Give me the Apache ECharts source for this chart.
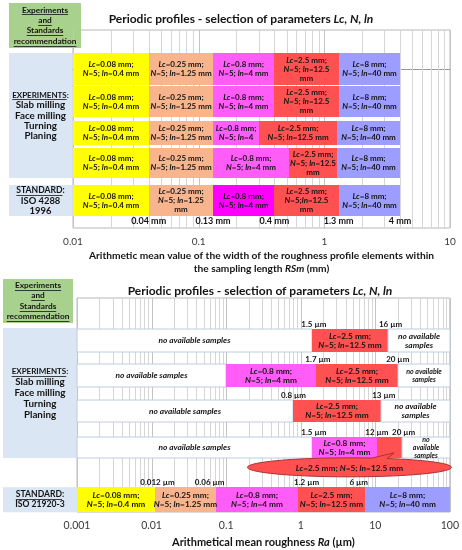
<!DOCTYPE html>
<html><head><meta charset="utf-8">
<script src="https://cdn.jsdelivr.net/npm/echarts@6/dist/echarts.min.js"></script>
<style>html,body{margin:0;padding:0;background:#fff}#c{width:462px;height:550px}</style>
</head><body><div id="c"></div>
<script>
// ================= DATA =================
// Top chart: RSm (mm), log axis
const topAxisTicks = [0.01, 0.1, 1, 10];
const topRowNames = ['Experiments 1', 'Experiments 2', 'Experiments 3', 'Experiments 4', 'ISO 4288 1996'];
// each segment: [from, to, Lc class]
const topRow1 = [[0.01, 0.04, '0.08'], [0.04, 0.13, '0.25'], [0.13, 0.4, '0.8'], [0.4, 1.3, '2.5'], [1.3, 4, '8']];
const topRow2 = [[0.01, 0.04, '0.08'], [0.04, 0.13, '0.25'], [0.13, 0.4, '0.8'], [0.4, 1.3, '2.5'], [1.3, 4, '8']];
const topRow3 = [[0.01, 0.04, '0.08'], [0.04, 0.13, '0.25'], [0.13, 0.3, '0.8'], [0.3, 1.25, '2.5'], [1.25, 4, '8']];
const topRow4 = [[0.01, 0.04, '0.08'], [0.04, 0.13, '0.25'], [0.13, 0.52, '0.8'], [0.52, 1.25, '2.5'], [1.25, 4, '8']];
const topStd  = [[0.01, 0.04, '0.08'], [0.04, 0.13, '0.25'], [0.13, 0.4, '0.8'], [0.4, 1.3, '2.5'], [1.3, 4, '8']];
const topRow1Text = ['Lc=0.08 mm;\nN=5; ln=0.4 mm', 'Lc=0.25 mm;\nN=5; ln=1.25 mm', 'Lc=0.8 mm;\nN=5; ln=4 mm', 'Lc=2.5 mm;\nN=5; ln=12.5\nmm', 'Lc=8 mm;\nN=5; ln=40 mm'];
const topRow2Text = ['Lc=0.08 mm;\nN=5; ln=0.4 mm', 'Lc=0.25 mm;\nN=5; ln=1.25 mm', 'Lc=0.8 mm;\nN=5; ln=4 mm', 'Lc=2.5 mm;\nN=5; ln=12.5\nmm', 'Lc=8 mm;\nN=5; ln=40 mm'];
const topRow3Text = ['Lc=0.08 mm;\nN=5; ln=0.4 mm', 'Lc=0.25 mm;\nN=5; ln=1.25 mm', 'Lc=0.8 mm;\nN=5; ln=4', 'Lc=2.5 mm;\nN=5; ln=12.5 mm', 'Lc=8 mm;\nN=5; ln=40 mm'];
const topRow4Text = ['Lc=0.08 mm;\nN=5; ln=0.4 mm', 'Lc=0.25 mm;\nN=5; ln=1.25 mm', 'Lc=0.8 mm;\nN=5; ln=4 mm', 'Lc=2.5 mm;\nN=5; ln=12.5\nmm', 'Lc=8 mm;\nN=5; ln=40 mm'];
const topStdText  = ['Lc=0.08 mm;\nN=5; ln=0.4 mm', 'Lc=0.25 mm;\nN=5; ln=1.25\nmm', 'Lc=0.8 mm;\nN=5; ln=4 mm', 'Lc=2.5 mm;\nN=5;ln=12.5\nmm', 'Lc=8 mm;\nN=5; ln=40 mm'];
const topStdThresholds = [0.04, 0.13, 0.4, 1.3, 4];
const topStdThresholdText = ['0.04 mm', '0.13 mm', '0.4 mm', '1.3 mm', '4 mm'];

// Bottom chart: Ra (µm), log axis
const botAxisTicks = [0.001, 0.01, 0.1, 1, 10, 100];
const botRowNames = ['Experiments 1', 'Experiments 2', 'Experiments 3', 'Experiments 4', 'ISO 21920-3'];
const botRow1 = [[0.001, 1.4, null], [1.4, 15, '2.5'], [15, 100, null]];
const botRow2 = [[0.001, 0.1, null], [0.1, 1.6, '0.8'], [1.6, 20, '2.5'], [20, 100, null]];
const botRow3 = [[0.001, 0.8, null], [0.8, 12, '2.5'], [12, 100, null]];
const botRow4 = [[0.001, 1.4, null], [1.4, 10.6, '0.8'], [10.6, 23, '2.5'], [23, 100, null]];
const botStd  = [[0.001, 0.011, '0.08'], [0.011, 0.074, '0.25'], [0.074, 0.93, '0.8'], [0.93, 7.3, '2.5'], [7.3, 100, '8']];
const botRow1Text = ['no available samples', 'Lc=2.5 mm;\nN=5; ln=12.5 mm', 'no available\nsamples'];
const botRow2Text = ['no available samples', 'Lc=0.8 mm;\nN=5; ln=4 mm', 'Lc=2.5 mm;\nN=5; ln=12.5 mm', 'no available\nsamples'];
const botRow3Text = ['no available samples', 'Lc=2.5 mm;\nN=5; ln=12.5 mm', 'no available\nsamples'];
const botRow4Text = ['no available samples', 'Lc=0.8 mm;\nN=5; ln=4 mm', '', 'no\navailable\nsamples'];
const botStdText  = ['Lc=0.08 mm;\nN=5; ln=0.4 mm', 'Lc=0.25 mm;\nN=5; ln=1.25 mm', 'Lc=0.8 mm;\nN=5; ln=4 mm', 'Lc=2.5 mm;\nN=5; ln=12.5 mm', 'Lc=8 mm;\nN=5; ln=40 mm'];
// threshold labels shown above each row: [position on Ra axis, text]
const botRow1Thresholds = [[1.5, '1.5 µm'], [16, '16 µm']];
const botRow2Thresholds = [[1.7, '1.7 µm'], [20, '20 µm']];
const botRow3Thresholds = [[0.8, '0.8 µm'], [13, '13 µm']];
const botRow4Thresholds = [[1.5, '1.5 µm'], [10.5, '12 µm'], [24, '20 µm']];
const botStdThresholds  = [[0.012, '0.012 µm'], [0.06, '0.06 µm'], [1.2, '1.2 µm'], [6, '6 µm']];
// callout for the narrow Lc=2.5 cell of experiment row 4
const calloutText = 'Lc=2.5 mm; N=5; ln=12.5 mm';
const calloutTipRa = 17.8;
const calloutCenterRa = 4.5;

// ================= STYLE / LAYOUT =================
const FONT = 'Lato';
const INK = '#141414';
const palette = {'0.08': '#ffff00', '0.25': '#f8b48c', '0.8': '#ff5cf8', '2.5': '#ff5151', '8': '#9d9dff'};
const topStdColors = {'0.8': '#ff00ff'};
const topLayout = {pos: [0, 1.04, 2.03, 2.98, 4.17], thick: [1.0, 0.98, 0.76, 0.96, 0.98], yMin: -1.23, yMax: 5.04};
const botLayout = {pos: [0, 0.97, 1.96, 2.97, 4.42], thick: [0.64, 0.64, 0.61, 0.58, 0.69], yMin: -1.18, yMax: 4.76};

function toRich(s, allItalic) {
  return s.split('\n').map(line => {
    if (allItalic) return '{i|' + line + '}';
    return line.split(/(Lc|N|ln)(?==)/).map((p, k) => p === '' ? '' : (k % 2 ? '{i|' + p + '}' : '{b|' + p + '}')).join('');
  }).join('\n');
}
function richStyles(fs, lh, zr) {
  const c = zr ? {fill: INK} : {color: INK};
  return {
    b: Object.assign({fontFamily: FONT, fontWeight: 'bold', fontSize: fs, lineHeight: lh}, c),
    i: Object.assign({fontFamily: FONT, fontWeight: 'bold', fontStyle: 'italic', fontSize: fs, lineHeight: lh}, c)
  };
}

// build cells
function buildCells(rows, texts, layout, stdColors) {
  const data = [], meta = [];
  rows.forEach((row, r) => {
    row.forEach((seg, s) => {
      data.push([seg[0], seg[1], layout.pos[r], layout.thick[r]]);
      let color = seg[2] ? palette[seg[2]] : '#ffffff';
      if (r === rows.length - 1 && stdColors && seg[2] && stdColors[seg[2]]) color = stdColors[seg[2]];
      meta.push({lc: seg[2], color: color, text: texts[r][s]});
    });
  });
  return {data, meta};
}
const topCells = buildCells([topRow1, topRow2, topRow3, topRow4, topStd],
  [topRow1Text, topRow2Text, topRow3Text, topRow4Text, topStdText], topLayout, topStdColors);
const botCells = buildCells([botRow1, botRow2, botRow3, botRow4, botStd],
  [botRow1Text, botRow2Text, botRow3Text, botRow4Text, botStdText], botLayout, null);

function cellRender(meta, fsMain) {
  return function (params, api) {
    const m = meta[params.dataIndex];
    const lo = api.value(0), hi = api.value(1), y = api.value(2), t = api.value(3);
    const a = api.coord([lo, y - t / 2]), b = api.coord([hi, y + t / 2]);
    const x0 = Math.round(a[0]), x1 = Math.round(b[0]);
    const y0 = Math.round(Math.min(a[1], b[1])), y1 = Math.round(Math.max(a[1], b[1]));
    const w = x1 - x0;
    const el = {type: 'rect', shape: {x: x0, y: y0, width: w, height: y1 - y0},
      style: m.lc ? {fill: m.color} : {fill: '#ffffff', stroke: '#bccde0', lineWidth: 1}};
    if (m.text) {
      const nas = !m.lc;
      let fs = fsMain;
      if (nas && w < 56) fs = 7;
      else if (nas) fs = 8.3;
      el.textContent = {style: {text: toRich(m.text, nas), rich: richStyles(fs, fs + 1, true), align: 'center', verticalAlign: 'middle'}};
      el.textConfig = {position: 'inside'};
    }
    return el;
  };
}

function gridRender(axMin, axMax, yMin, yMax) {
  return function (params, api) {
    const children = [];
    const e0 = Math.round(Math.log10(axMin)), e1 = Math.round(Math.log10(axMax));
    for (let e = e0; e <= e1; e++) {
      for (let m = 1; m <= 9; m++) {
        if (e === e1 && m > 1) break;
        const v = m * Math.pow(10, e);
        const p0 = api.coord([v, yMin]), p1 = api.coord([v, yMax]);
        const x = Math.round(p0[0]) + 0.5;
        children.push({type: 'line', shape: {x1: x, y1: p0[1], x2: x, y2: p1[1]},
          style: {stroke: m === 1 ? '#c4c4c4' : '#d6d6d6', lineWidth: 1}});
      }
    }
    return {type: 'group', children};
  };
}

// thresholds
const topThrData = topStdThresholds.map(v => [v, topLayout.pos[4], topLayout.thick[4]]);
const botThrAll = [botRow1Thresholds, botRow2Thresholds, botRow3Thresholds, botRow4Thresholds, botStdThresholds];
const botThrData = [], botThrText = [];
botThrAll.forEach((arr, r) => arr.forEach(t => { botThrData.push([t[0], botLayout.pos[r], botLayout.thick[r]]); botThrText.push(t[1]); }));

function thrRender(texts, below, fs) {
  return function (params, api) {
    const v = api.value(0), y = api.value(1), t = api.value(2);
    const p = api.coord([v, below ? y + t / 2 : y - t / 2]);
    return {type: 'text', x: p[0], y: below ? p[1] + 1 : p[1] - 0.5,
      style: {text: texts[params.dataIndex], fontFamily: FONT, fontWeight: 'bold', fontSize: fs, fill: INK,
        align: 'center', verticalAlign: below ? 'top' : 'bottom'}};
  };
}

function calloutRender(params, api) {
  const tip = api.coord([api.value(0), api.value(1)]);
  const c = api.coord([api.value(2), api.value(3)]);
  const rx = 102, ry = 9.5;
  const bx1 = tip[0] - 22, bx2 = tip[0] - 7;
  const th1 = 2 * Math.PI - Math.acos(Math.max(-1, Math.min(1, (bx1 - c[0]) / rx)));
  const th2 = 2 * Math.PI - Math.acos(Math.max(-1, Math.min(1, (bx2 - c[0]) / rx)));
  const pts = [];
  let tipDone = false;
  const N = 90;
  for (let k = 0; k <= N; k++) {
    const th = 2 * Math.PI * k / N;
    if (th > th1 && !tipDone) {
      pts.push([c[0] + rx * Math.cos(th1), c[1] + ry * Math.sin(th1)]);
      pts.push([tip[0], tip[1]]);
      pts.push([c[0] + rx * Math.cos(th2), c[1] + ry * Math.sin(th2)]);
      tipDone = true;
    }
    if (th > th1 && th < th2) continue;
    pts.push([c[0] + rx * Math.cos(th), c[1] + ry * Math.sin(th)]);
  }
  return {type: 'group', children: [
    {type: 'polygon', shape: {points: pts}, style: {fill: '#ff4f4f', stroke: '#a83232', lineWidth: 1}},
    {type: 'text', x: c[0], y: c[1] + 0.5, style: {text: toRich(calloutText, false), rich: richStyles(8.3, 10, true),
      align: 'center', verticalAlign: 'middle'}}
  ]};
}

function tickFmt(ticks) {
  return function (v) {
    const t = ticks.find(t => Math.abs(Math.log10(t) - Math.log10(v)) < 1e-6);
    return t === undefined ? '' : String(t);
  };
}

const titleRich = {
  b: {fontFamily: FONT, fontWeight: 'bold', fontSize: 12, color: INK},
  bi: {fontFamily: FONT, fontWeight: 'bold', fontStyle: 'italic', fontSize: 12, color: INK}
};
const nameRichTop = {
  b: {fontFamily: FONT, fontWeight: 'bold', fontSize: 10.2, color: INK, lineHeight: 13},
  bi: {fontFamily: FONT, fontWeight: 'bold', fontStyle: 'italic', fontSize: 10.2, color: INK, lineHeight: 13}
};
const nameRichBot = {
  b: {fontFamily: FONT, fontWeight: 'bold', fontSize: 11, color: INK, lineHeight: 14},
  bi: {fontFamily: FONT, fontWeight: 'bold', fontStyle: 'italic', fontSize: 11, color: INK, lineHeight: 14}
};

const chart = echarts.init(document.getElementById('c'), null, {renderer: 'canvas', width: 462, height: 550});
chart.setOption({
  backgroundColor: '#ffffff',
  animation: false,
  title: [
    {text: '{b|Periodic profiles - selection of parameters }{bi|Lc, N, ln}', left: 236, top: 8, textAlign: 'center', textStyle: {rich: titleRich}},
    {text: '{b|Periodic profiles - selection of parameters }{bi|Lc, N, ln}', left: 255, top: 280, textAlign: 'center', textStyle: {rich: titleRich}}
  ],
  grid: [
    {left: 73, right: 12, top: 30, height: 198, show: true, borderColor: '#b8b8b8', borderWidth: 1, backgroundColor: '#fff'},
    {left: 77, right: 11, top: 298, height: 214, show: true, borderColor: '#b8b8b8', borderWidth: 1, backgroundColor: '#fff'}
  ],
  xAxis: [
    {type: 'log', logBase: 10, gridIndex: 0, min: topAxisTicks[0], max: topAxisTicks[topAxisTicks.length - 1],
      axisLine: {show: true, lineStyle: {color: '#9a9a9a'}}, axisTick: {show: false}, splitLine: {show: false},
      axisLabel: {fontFamily: FONT, fontSize: 10, color: '#3a3a3a', margin: 9, formatter: tickFmt(topAxisTicks)},
      name: '{b|Arithmetic mean value of the width of the roughness profile elements within}\n{b|the sampling length }{bi|RSm}{b| (mm)}',
      nameLocation: 'middle', nameGap: 21, nameTextStyle: {rich: nameRichTop, align: 'center'}},
    {type: 'log', logBase: 10, gridIndex: 1, min: botAxisTicks[0], max: botAxisTicks[botAxisTicks.length - 1],
      axisLine: {show: true, lineStyle: {color: '#9a9a9a'}}, axisTick: {show: false}, splitLine: {show: false},
      axisLabel: {fontFamily: FONT, fontSize: 10.5, color: '#3a3a3a', margin: 8, formatter: tickFmt(botAxisTicks)},
      name: '{b|Arithmetical mean roughness }{bi|Ra}{b| (µm)}',
      nameLocation: 'middle', nameGap: 23, nameTextStyle: {rich: nameRichBot}}
  ],
  yAxis: [
    {type: 'value', gridIndex: 0, inverse: true, min: topLayout.yMin, max: topLayout.yMax, show: false},
    {type: 'value', gridIndex: 1, inverse: true, min: botLayout.yMin, max: botLayout.yMax, show: false}
  ],
  series: [
    {type: 'custom', name: 'grid-top', xAxisIndex: 0, yAxisIndex: 0, z: 1, silent: true, data: [[1, 0]],
      renderItem: gridRender(topAxisTicks[0], topAxisTicks[topAxisTicks.length - 1], topLayout.yMin, topLayout.yMax)},
    {type: 'custom', name: 'grid-bottom', xAxisIndex: 1, yAxisIndex: 1, z: 1, silent: true, data: [[1, 0]],
      renderItem: gridRender(botAxisTicks[0], botAxisTicks[botAxisTicks.length - 1], botLayout.yMin, botLayout.yMax)},
    {type: 'custom', name: 'RSm ranges', xAxisIndex: 0, yAxisIndex: 0, z: 2, data: topCells.data,
      encode: {x: [0, 1], y: 2}, renderItem: cellRender(topCells.meta, 8)},
    {type: 'custom', name: 'Ra ranges', xAxisIndex: 1, yAxisIndex: 1, z: 2, data: botCells.data,
      encode: {x: [0, 1], y: 2}, renderItem: cellRender(botCells.meta, 8.3)},
    {type: 'custom', name: 'RSm thresholds', xAxisIndex: 0, yAxisIndex: 0, z: 3, data: topThrData,
      encode: {x: 0, y: 1}, renderItem: thrRender(topStdThresholdText, true, 9)},
    {type: 'custom', name: 'Ra thresholds', xAxisIndex: 1, yAxisIndex: 1, z: 3, data: botThrData,
      encode: {x: 0, y: 1}, renderItem: thrRender(botThrText, false, 8)},
    {type: 'custom', name: 'callout', xAxisIndex: 1, yAxisIndex: 1, z: 4,
      data: [[calloutTipRa, botLayout.pos[3] + 0.15, calloutCenterRa, botLayout.pos[3] + 0.55]],
      renderItem: calloutRender}
  ]
});

// ---------- left-hand label boxes ----------
const measureCtx = document.createElement('canvas').getContext('2d');
function textW(t, fs) { measureCtx.font = 'bold ' + fs + 'px ' + FONT; return measureCtx.measureText(t).width; }
function leftBox(x0, x1, y0, y1, fill, lines) {
  const cx = (x0 + x1) / 2, cy = (y0 + y1) / 2;
  const els = [{type: 'rect', shape: {x: x0, y: y0, width: x1 - x0, height: y1 - y0}, style: {fill: fill}, z: 0}];
  lines.forEach(l => {
    const y = cy + l.dy;
    els.push({type: 'text', x: cx, y: y, style: {text: l.t, fontFamily: FONT, fontWeight: 'bold', fontSize: l.fs,
      fill: INK, align: 'center', verticalAlign: 'middle'}, z: 1});
    if (l.u) {
      const W = textW(l.t, l.fs);
      const wu = l.u === 'all' ? W : textW(l.u, l.fs);
      const uy = Math.round(y + l.fs * 0.55) + 0.5;
      els.push({type: 'line', shape: {x1: cx - W / 2, y1: uy, x2: cx - W / 2 + wu, y2: uy}, style: {stroke: INK, lineWidth: 0.8}, z: 1});
    }
  });
  return els;
}
function py(g, y) { return chart.convertToPixel({gridIndex: g}, [1, y])[1]; }
const tTop0 = py(0, topLayout.pos[0] - topLayout.thick[0] / 2), tTop3 = py(0, topLayout.pos[3] + topLayout.thick[3] / 2);
const tStd0 = py(0, topLayout.pos[4] - topLayout.thick[4] / 2), tStd1 = py(0, topLayout.pos[4] + topLayout.thick[4] / 2);
const bTop0 = py(1, botLayout.pos[0] - botLayout.thick[0] / 2) - 1, bTop3 = py(1, botLayout.pos[3] + botLayout.thick[3] / 2);
const bStd0 = py(1, botLayout.pos[4] - botLayout.thick[4] / 2), bStd1 = py(1, botLayout.pos[4] + botLayout.thick[4] / 2);
const GREEN = '#a9d18e', BLUE = '#dae6f3';
const expLines = (fs1, fs2, step) => [
  {t: 'EXPERIMENTS:', fs: fs1, u: 'EXPERIMENTS', dy: -2 * step},
  {t: 'Slab milling', fs: fs2, dy: -step},
  {t: 'Face milling', fs: fs2, dy: 0},
  {t: 'Turning', fs: fs2, dy: step},
  {t: 'Planing', fs: fs2, dy: 2 * step}
];
const recLines = (fs, step) => [
  {t: 'Experiments', fs: fs, u: 'all', dy: -1.5 * step},
  {t: 'and', fs: fs, u: 'all', dy: -0.5 * step},
  {t: 'Standards', fs: fs, u: 'all', dy: 0.5 * step},
  {t: 'recommendation', fs: fs, u: 'all', dy: 1.5 * step}
];
const graphics = [].concat(
  leftBox(9, 81, 3, 48, GREEN, recLines(8.3, 10.4)),
  leftBox(9, 72, tTop0, tTop3, BLUE, expLines(8, 9.8, 10.3)),
  leftBox(9, 72, tStd0, tStd1, BLUE, [
    {t: 'STANDARD:', fs: 8.6, u: 'STANDARD', dy: -10.3}, {t: 'ISO 4288', fs: 9.4, dy: 0}, {t: '1996', fs: 9.4, dy: 10.3}]),
  leftBox(3, 73, 279, 323, GREEN, recLines(8.3, 10.4)),
  leftBox(3, 77, bTop0, bTop3, BLUE, expLines(8, 9.8, 10.8)),
  leftBox(3, 77, bStd0, bStd1, BLUE, [
    {t: 'STANDARD:', fs: 8.6, u: 'STANDARD', dy: -5.5}, {t: 'ISO 21920-3', fs: 8.6, dy: 4.5}])
);
chart.setOption({graphic: graphics});
</script></body></html>
